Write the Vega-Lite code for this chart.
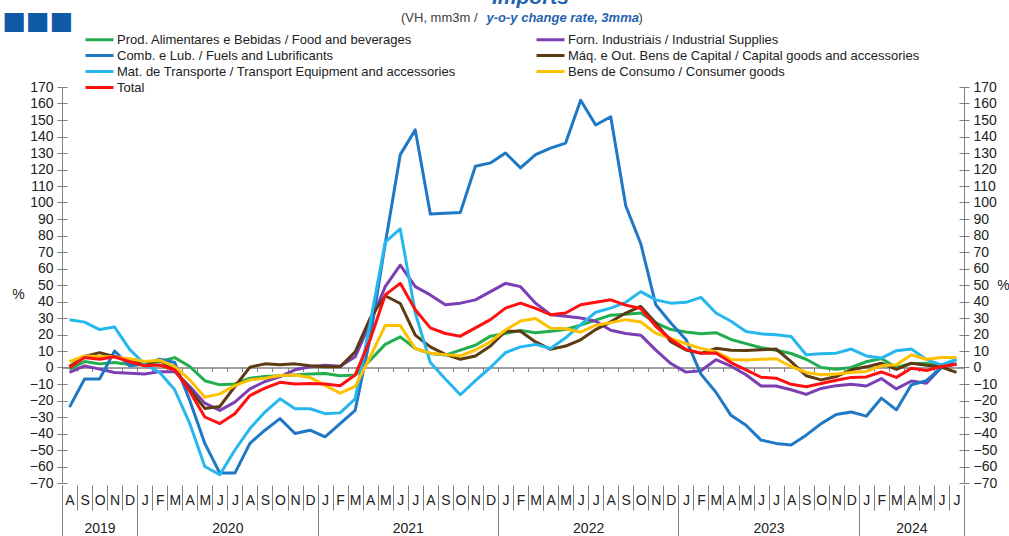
{
  "$schema": "https://vega.github.io/schema/vega-lite/v6.json",
  "width": 902,
  "height": 396,
  "autosize": "none",
  "padding": {"left": 62, "top": 87, "right": 45, "bottom": 53},
  "background": "white",
  "title": {"text": "(VH, mm3m  /", "anchor": "start", "frame": "group", "dx": 339, "offset": -38, "fontSize": 13, "fontWeight": "normal", "color": "#404040", "font": "Liberation Sans"},
  "data": {"values": [
    {"m":"2019-08","food":-1,"ind":-3,"fuel":-24,"cap":0.6,"trans":29,"cons":3.6,"total":0},
    {"m":"2019-09","food":3.6,"ind":1,"fuel":-7,"cap":6.7,"trans":27.5,"cons":7,"total":6},
    {"m":"2019-10","food":2.2,"ind":-1,"fuel":-7,"cap":9,"trans":23,"cons":6.7,"total":5},
    {"m":"2019-11","food":3,"ind":-3,"fuel":10,"cap":6.5,"trans":24.5,"cons":6.3,"total":6.5},
    {"m":"2019-12","food":1.8,"ind":-3.5,"fuel":1,"cap":4.2,"trans":11,"cons":5.3,"total":3.5},
    {"m":"2020-01","food":2,"ind":-4,"fuel":2,"cap":2.2,"trans":2,"cons":3.6,"total":1},
    {"m":"2020-02","food":3.6,"ind":-2.5,"fuel":5,"cap":4.4,"trans":-3,"cons":4.4,"total":1.5},
    {"m":"2020-03","food":6,"ind":-2.5,"fuel":3,"cap":-1.4,"trans":-13.5,"cons":0.6,"total":-1.5},
    {"m":"2020-04","food":0.6,"ind":-11.5,"fuel":-20,"cap":-13.5,"trans":-34,"cons":-7.5,"total":-14.5},
    {"m":"2020-05","food":-8,"ind":-21.6,"fuel":-46,"cap":-24.8,"trans":-60,"cons":-18,"total":-30},
    {"m":"2020-06","food":-10.5,"ind":-26,"fuel":-64,"cap":-23.6,"trans":-65,"cons":-16,"total":-34},
    {"m":"2020-07","food":-10,"ind":-21,"fuel":-64,"cap":-11.5,"trans":-50,"cons":-11,"total":-28},
    {"m":"2020-08","food":-6.5,"ind":-13,"fuel":-46,"cap":0.2,"trans":-37,"cons":-7.5,"total":-17},
    {"m":"2020-09","food":-5.5,"ind":-8.5,"fuel":-38,"cap":2.2,"trans":-27,"cons":-6.5,"total":-12.5},
    {"m":"2020-10","food":-5,"ind":-5.5,"fuel":-31,"cap":1.6,"trans":-19,"cons":-4.8,"total":-9},
    {"m":"2020-11","food":-4.5,"ind":-1.4,"fuel":-40,"cap":2.2,"trans":-25,"cons":-4.5,"total":-10},
    {"m":"2020-12","food":-4,"ind":0.4,"fuel":-38,"cap":1,"trans":-25,"cons":-6,"total":-9.7},
    {"m":"2021-01","food":-3.6,"ind":1.4,"fuel":-42,"cap":0.4,"trans":-28,"cons":-10.8,"total":-10},
    {"m":"2021-02","food":-5,"ind":0.8,"fuel":-34,"cap":0.4,"trans":-27.5,"cons":-15.6,"total":-11},
    {"m":"2021-03","food":-4.6,"ind":6.5,"fuel":-26,"cap":9.5,"trans":-19,"cons":-11.5,"total":-4.6},
    {"m":"2021-04","food":4.4,"ind":27,"fuel":18,"cap":30,"trans":27,"cons":6.5,"total":17},
    {"m":"2021-05","food":14,"ind":49,"fuel":75,"cap":43.5,"trans":76,"cons":25.4,"total":44},
    {"m":"2021-06","food":18.6,"ind":62,"fuel":129,"cap":38.8,"trans":84,"cons":25.4,"total":51},
    {"m":"2021-07","food":11.5,"ind":49,"fuel":144,"cap":19.6,"trans":33,"cons":11.5,"total":35},
    {"m":"2021-08","food":8.5,"ind":44,"fuel":93,"cap":12.5,"trans":3,"cons":8.7,"total":24},
    {"m":"2021-09","food":7.5,"ind":38,"fuel":93.5,"cap":8,"trans":-7,"cons":7.8,"total":20.6},
    {"m":"2021-10","food":10.5,"ind":39,"fuel":94,"cap":5,"trans":-16.5,"cons":7,"total":19},
    {"m":"2021-11","food":13.5,"ind":41,"fuel":122,"cap":7,"trans":-8,"cons":10.6,"total":24},
    {"m":"2021-12","food":19,"ind":46,"fuel":124,"cap":13,"trans":0,"cons":15.6,"total":29},
    {"m":"2022-01","food":20.6,"ind":51,"fuel":130,"cap":22,"trans":9,"cons":22.7,"total":36},
    {"m":"2022-02","food":22.5,"ind":49,"fuel":121,"cap":22,"trans":12.5,"cons":28.2,"total":39},
    {"m":"2022-03","food":21,"ind":39,"fuel":129,"cap":15.5,"trans":14,"cons":29.7,"total":35.8},
    {"m":"2022-04","food":22,"ind":32,"fuel":133,"cap":11,"trans":11.5,"cons":23.8,"total":32},
    {"m":"2022-05","food":23,"ind":31,"fuel":136,"cap":13,"trans":18,"cons":23.5,"total":33},
    {"m":"2022-06","food":25.7,"ind":30,"fuel":162,"cap":16.8,"trans":26,"cons":21.4,"total":38},
    {"m":"2022-07","food":28.7,"ind":28,"fuel":147,"cap":23,"trans":33.5,"cons":25.6,"total":39.6},
    {"m":"2022-08","food":31.7,"ind":22.6,"fuel":152,"cap":27.7,"trans":36,"cons":27.2,"total":41},
    {"m":"2022-09","food":32.3,"ind":20.6,"fuel":98,"cap":33,"trans":39.5,"cons":29,"total":37.8},
    {"m":"2022-10","food":33,"ind":19.6,"fuel":75,"cap":37,"trans":46,"cons":27.6,"total":35.8},
    {"m":"2022-11","food":27,"ind":10.5,"fuel":38,"cap":27,"trans":41,"cons":20.8,"total":25},
    {"m":"2022-12","food":23,"ind":2.4,"fuel":27,"cap":15.6,"trans":39,"cons":17.6,"total":17},
    {"m":"2023-01","food":21.5,"ind":-2.8,"fuel":17,"cap":10.6,"trans":39.5,"cons":14.5,"total":11},
    {"m":"2023-02","food":20.4,"ind":-2,"fuel":-4,"cap":8.6,"trans":42.5,"cons":11.5,"total":8.7},
    {"m":"2023-03","food":21.1,"ind":4.7,"fuel":-15,"cap":11.6,"trans":33,"cons":9.5,"total":8.8},
    {"m":"2023-04","food":17,"ind":0.8,"fuel":-29,"cap":10.4,"trans":28,"cons":4.9,"total":3},
    {"m":"2023-05","food":14.5,"ind":-4.4,"fuel":-35,"cap":10.3,"trans":21.8,"cons":4.6,"total":-1.4},
    {"m":"2023-06","food":12,"ind":-11.2,"fuel":-44,"cap":10.7,"trans":20.4,"cons":5,"total":-5.9},
    {"m":"2023-07","food":10.5,"ind":-11.2,"fuel":-46,"cap":11.2,"trans":19.8,"cons":5.3,"total":-6.5},
    {"m":"2023-08","food":8.5,"ind":-13.5,"fuel":-47,"cap":3.6,"trans":18.8,"cons":0.6,"total":-10.2},
    {"m":"2023-09","food":5,"ind":-16.3,"fuel":-41,"cap":-5,"trans":7.7,"cons":-3,"total":-11.7},
    {"m":"2023-10","food":0,"ind":-12.7,"fuel":-34,"cap":-7.5,"trans":8.3,"cons":-4.4,"total":-9.7},
    {"m":"2023-11","food":-1,"ind":-11,"fuel":-28.5,"cap":-5.5,"trans":8.7,"cons":-4,"total":-7.7},
    {"m":"2023-12","food":0,"ind":-10.2,"fuel":-27,"cap":-1.4,"trans":11.2,"cons":-3,"total":-6},
    {"m":"2024-01","food":3.5,"ind":-11.2,"fuel":-29.5,"cap":0.4,"trans":7,"cons":-2.4,"total":-5.7},
    {"m":"2024-02","food":5.5,"ind":-6.7,"fuel":-18.6,"cap":2.6,"trans":5.7,"cons":1,"total":-2.7},
    {"m":"2024-03","food":0,"ind":-13,"fuel":-25.7,"cap":-1.2,"trans":10.2,"cons":1.6,"total":-6},
    {"m":"2024-04","food":2.5,"ind":-8.2,"fuel":-10.5,"cap":2.6,"trans":11.2,"cons":7.7,"total":-0.4},
    {"m":"2024-05","food":2.5,"ind":-9.5,"fuel":-8,"cap":1.3,"trans":4.8,"cons":5,"total":-1.8},
    {"m":"2024-06","food":1.5,"ind":0,"fuel":0,"cap":0.3,"trans":1.6,"cons":6,"total":0.6},
    {"m":"2024-07","food":2,"ind":2.3,"fuel":5,"cap":-3,"trans":5,"cons":6,"total":2}
  ]},
  "transform": [{"fold": ["food","ind","fuel","cap","trans","cons","total"], "as": ["s","v"]}],
  "layer": [
    {
      "mark": {"type": "line", "strokeWidth": 3, "strokeJoin": "round"},
      "encoding": {
        "x": {"field": "m", "type": "ordinal", "bandPosition": 0.5,
          "scale": {"type": "band", "paddingInner": 0, "paddingOuter": 0},
          "axis": {"orient": "bottom", "offset": 2, "domain": false, "tickBand": "extent", "tickSize": 25, "tickColor": "#808080", "tickWidth": 1,
            "labelExpr": "substring('JFMAMJJASOND', toNumber(substring(datum.value,5,7))-1, toNumber(substring(datum.value,5,7)))",
            "labelAngle": 0, "labelBaseline": "top", "labelPadding": -17, "labelFontSize": 14, "labelColor": "#222", "labelOverlap": false, "labelBound": false, "labelFlush": false,
            "title": "y-o-y change rate, 3mma", "titleX": 424, "titleY": -468, "titleAlign": "left", "titleBaseline": "middle", "titleFontSize": 13, "titleFontWeight": "bold", "titleFontStyle": "italic", "titleColor": "#1f63b0"}},
        "y": {"field": "v", "type": "quantitative",
          "scale": {"domain": [-70, 170], "nice": false, "zero": false},
          "axis": {"orient": "left", "values": [-70,-60,-50,-40,-30,-20,-10,0,10,20,30,40,50,60,70,80,90,100,110,120,130,140,150,160,170],
            "tickSize": 5, "labelPadding": 4, "labelFontSize": 14, "labelColor": "#222", "domainColor": "#808080", "tickColor": "#808080",
            "title": "%", "titleAngle": 0, "titleX": -44, "titleY": 207, "titleAlign": "center", "titleBaseline": "middle", "titleFontSize": 14, "titleFontWeight": "normal", "titleColor": "#222"}},
        "color": {"field": "s", "type": "nominal",
          "scale": {"domain": ["food","fuel","trans","total","ind","cap","cons"],
                    "range": ["#22ad4e","#1f78c6","#27b7ef","#ff1010","#7a3fb3","#5c3a12","#ffc000"]},
          "legend": {"orient": "none", "legendX": 29, "legendY": -56, "columns": 2, "columnPadding": 74, "rowPadding": -1,
            "symbolType": "M-2,0H2", "symbolSize": 196, "symbolStrokeWidth": 3, "labelFontSize": 13, "labelColor": "#222", "labelLimit": 500, "labelOffset": 9, "title": null,
            "labelExpr": "{'food':'Prod. Alimentares e Bebidas / Food and beverages','ind':'Forn. Industriais / Industrial Supplies','fuel':'Comb. e Lub. /  Fuels and Lubrificants','cap':'Máq. e Out. Bens de Capital / Capital goods and accessories','trans':'Mat. de Transporte / Transport Equipment and accessories','cons':'Bens de Consumo / Consumer goods','total':'Total'}[datum.value]"}}
      }
    },
    {
      "mark": {"type": "point", "opacity": 0},
      "encoding": {
        "x": {"field": "m", "type": "ordinal", "bandPosition": 0.5,
          "scale": {"type": "band", "paddingInner": 0, "paddingOuter": 0},
          "axis": {"orient": "bottom", "offset": -115.5, "domain": true, "domainColor": "#808080", "domainWidth": 1.5, "tickBand": "extent", "tickSize": 4, "tickColor": "#808080", "labels": false,
            "title": "Imports", "titleX": 468, "titleY": -364, "titleAlign": "center", "titleBaseline": "alphabetic", "titleFontSize": 21, "titleFontWeight": "bold", "titleFontStyle": "italic", "titleColor": "#1f63b0"}},
        "y": {"field": "v", "type": "quantitative",
          "scale": {"domain": [-70, 170], "nice": false, "zero": false},
          "axis": {"orient": "right", "values": [-70,-60,-50,-40,-30,-20,-10,0,10,20,30,40,50,60,70,80,90,100,110,120,130,140,150,160,170],
            "tickSize": 5, "labelPadding": 4, "labelFontSize": 14, "labelColor": "#222", "domainColor": "#808080", "tickColor": "#808080",
            "title": "%", "titleAngle": 0, "titleX": 39, "titleY": 198, "titleAlign": "center", "titleBaseline": "middle", "titleFontSize": 14, "titleFontWeight": "normal", "titleColor": "#222"}}
      }
    },
    {
      "mark": {"type": "point", "opacity": 0},
      "encoding": {
        "x": {"field": "m", "type": "ordinal", "bandPosition": 0.5,
          "scale": {"type": "band", "paddingInner": 0, "paddingOuter": 0},
          "axis": {"orient": "bottom", "offset": 2, "domain": false, "tickBand": "extent", "tickSize": 52, "tickColor": "#808080",
            "tickOpacity": {"condition": {"test": "datum.extra || indexof(['2019-12','2020-12','2021-12','2022-12','2023-12','2024-07'], datum.value) >= 0", "value": 1}, "value": 0},
            "labelExpr": "datum.value == '2019-10' ? '2019' : datum.value == '2020-06' ? '2020' : datum.value == '2021-06' ? '2021' : datum.value == '2022-06' ? '2022' : datum.value == '2023-06' ? '2023' : datum.value == '2024-04' ? '2024' : ''",
            "labelOffset": {"condition": {"test": "indexof(['2020-06','2021-06','2022-06','2023-06'], datum.value) >= 0", "value": 7.5}, "value": 0},
            "labelAngle": 0, "labelBaseline": "top", "labelPadding": -16, "labelFontSize": 14, "labelColor": "#222", "labelOverlap": false, "labelBound": false, "labelFlush": false,
            "title": ")", "titleX": 576, "titleY": -468, "titleAlign": "left", "titleBaseline": "middle", "titleFontSize": 13, "titleFontWeight": "normal", "titleColor": "#404040"}},
        "y": {"field": "v", "type": "quantitative",
          "scale": {"domain": [-70, 170], "nice": false, "zero": false},
          "axis": {"orient": "left", "offset": -5, "values": [-70,-60,-50,-40,-30,-20,-10,0,10,20,30,40,50,60,70,80,90,100,110,120,130,140,150,160,170],
            "domain": false, "labels": false, "tickSize": 5, "tickColor": "#808080", "title": null}}
      }
    },
    {
      "mark": {"type": "point", "opacity": 0},
      "encoding": {
        "x": {"field": "m", "type": "ordinal", "bandPosition": 0.5,
          "scale": {"type": "band", "paddingInner": 0, "paddingOuter": 0}, "axis": null},
        "y": {"field": "v", "type": "quantitative",
          "scale": {"domain": [-70, 170], "nice": false, "zero": false},
          "axis": {"orient": "right", "offset": -5, "values": [-70,-60,-50,-40,-30,-20,-10,0,10,20,30,40,50,60,70,80,90,100,110,120,130,140,150,160,170],
            "domain": false, "labels": false, "tickSize": 5, "tickColor": "#808080",
            "title": "■■■", "titleAngle": 0, "titleX": -957, "titleY": -67, "titleAlign": "left", "titleBaseline": "middle", "titleFont": "DejaVu Sans", "titleFontSize": 25, "titleFontWeight": "normal", "titleColor": "#0f59a5"}}
      }
    }
  ],
  "resolve": {"axis": {"x": "independent", "y": "independent"}},
  "config": {
    "view": {"stroke": null},
    "font": "Liberation Sans",
    "axis": {"labelFont": "Liberation Sans", "titleFont": "Liberation Sans", "grid": false},
    "legend": {"labelFont": "Liberation Sans"}
  }
}
